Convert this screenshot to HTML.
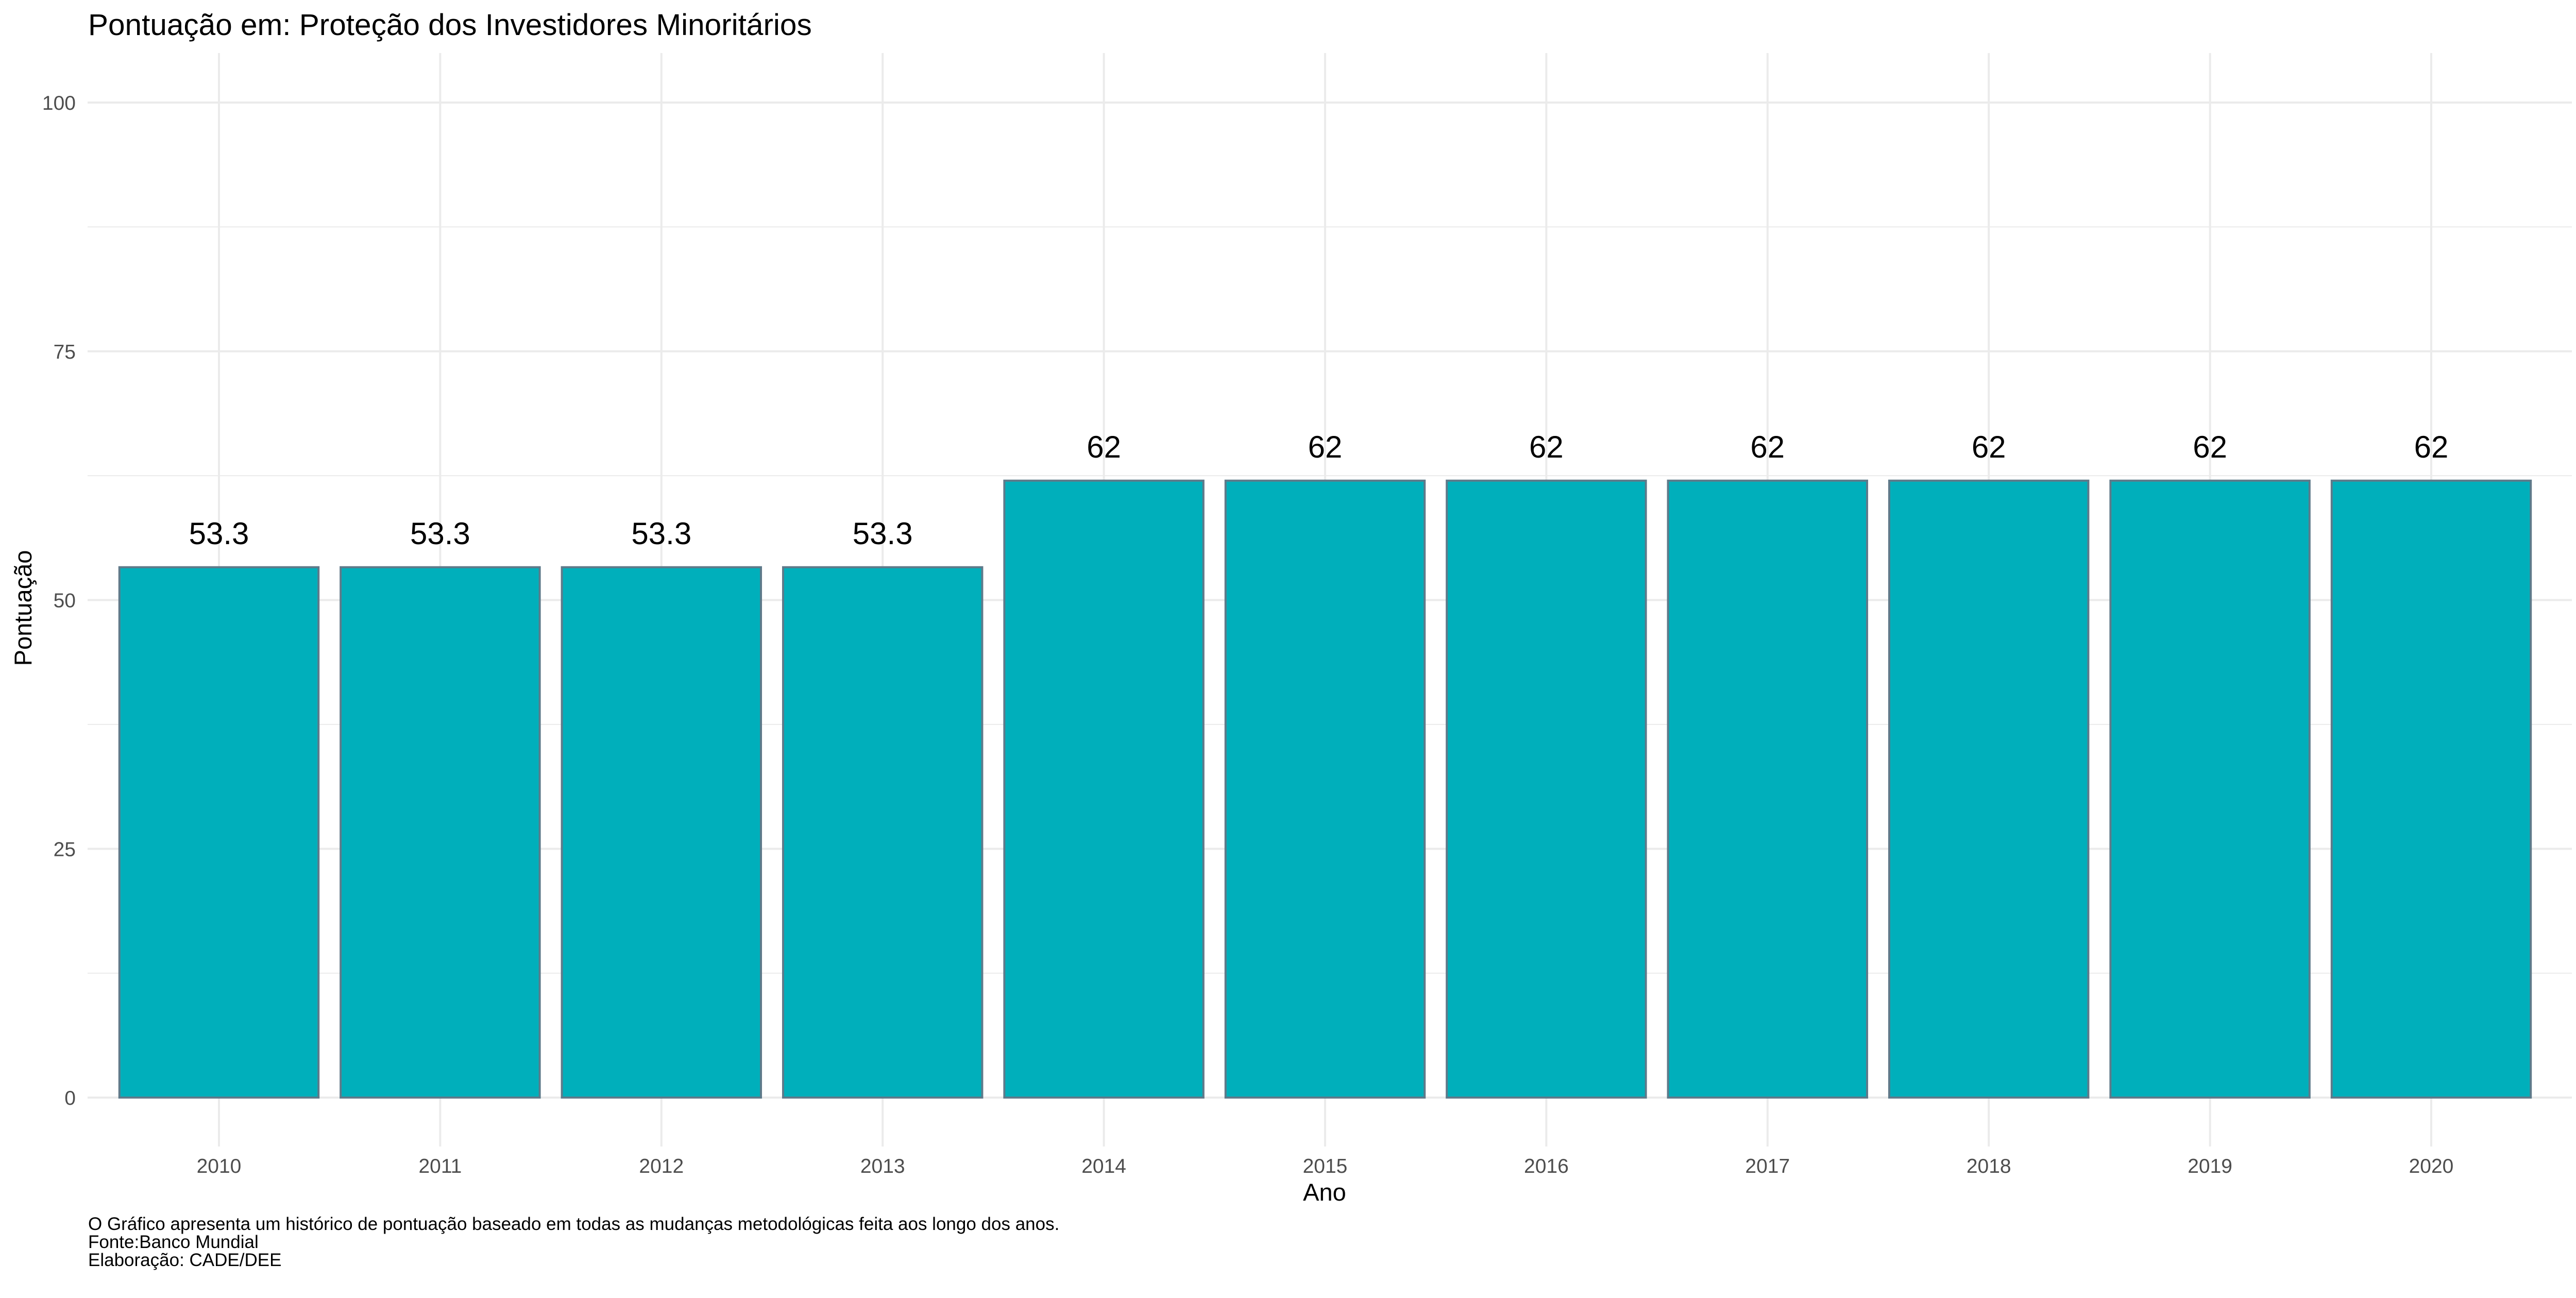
<!DOCTYPE html>
<html><head><meta charset="utf-8">
<style>
html,body{margin:0;padding:0;background:#fff;}
svg{display:block;font-family:"Liberation Sans",Arial,sans-serif;}
</style></head>
<body>
<svg id="chart" width="5039" height="2519" viewBox="0 0 5039 2519" xmlns="http://www.w3.org/2000/svg">
<rect width="5039" height="2519" fill="#ffffff"/>
<g id="grid"></g>
<g id="bars"></g>
<g id="labels"></g>
<g id="yticks"></g>
<g id="xticks"></g>
<text x="171" y="68" font-size="58.5" fill="#000">Pontuação em: Proteção dos Investidores Minoritários</text>
<text x="2571" y="2330" font-size="47" text-anchor="middle" fill="#000">Ano</text>
<text transform="translate(61,1180) rotate(-90)" font-size="47" text-anchor="middle" fill="#000">Pontuação</text>
<g font-size="35" fill="#000">
<text x="171" y="2387">O Gráfico apresenta um histórico de pontuação baseado em todas as mudanças metodológicas feita aos longo dos anos.</text>
<text x="171" y="2422">Fonte:Banco Mundial</text>
<text x="171" y="2457">Elaboração: CADE/DEE</text>
</g>
</svg>
<script>
const categories = ["2010","2011","2012","2013","2014","2015","2016","2017","2018","2019","2020"];
const values = [53.3,53.3,53.3,53.3,62,62,62,62,62,62,62];
const valueLabels = ["53.3","53.3","53.3","53.3","62","62","62","62","62","62","62"];
const yTicks = [0,25,50,75,100];
const yTickLabels = ["0","25","50","75","100"];
const yMinor = [12.5,37.5,62.5,87.5];

const NS = "http://www.w3.org/2000/svg";
const panelL = 170, panelR = 4992, panelT = 103, panelB = 2225;
const y0 = 2130, pxPerUnit = 19.31;
const xFirst = 425, step = 429.4;
function yScale(v){ return y0 - v*pxPerUnit; }
function xScale(i){ return xFirst + i*step; }
const bw = step*0.9;

function mk(tag, attrs, parent){
  const el = document.createElementNS(NS, tag);
  for (const k in attrs) el.setAttribute(k, attrs[k]);
  parent.appendChild(el);
  return el;
}
const grid = document.getElementById('grid');
yMinor.forEach(v=>{
  const l = mk('line',{x1:panelL,x2:panelR,y1:yScale(v),y2:yScale(v),stroke:'#ebebeb','stroke-width':2},grid);
  
  
});
yTicks.forEach(v=>{
  const l = mk('line',{x1:panelL,x2:panelR,y1:yScale(v),y2:yScale(v),stroke:'#ebebeb','stroke-width':4},grid);
  
  
});
categories.forEach((c,i)=>{
  const l = mk('line',{x1:xScale(i),x2:xScale(i),y1:panelT,y2:panelB,stroke:'#ebebeb','stroke-width':4},grid);
  
  
});
const bars = document.getElementById('bars');
const labels = document.getElementById('labels');
const xt = document.getElementById('xticks');
values.forEach((v,i)=>{
  const cx = xScale(i);
  const r = mk('rect',{x:cx-bw/2,y:yScale(v),width:bw,height:y0-yScale(v),fill:'#00AFBB',stroke:'#5f7a8a','stroke-width':4},bars);
  
  
  const t = mk('text',{x:cx,y:yScale(v)-45,'font-size':60,'text-anchor':'middle',fill:'#000'},labels);
  t.textContent = valueLabels[i];
  
  
  const xl = mk('text',{x:cx,y:2276,'font-size':39,'text-anchor':'middle',fill:'#4d4d4d'},xt);
  xl.textContent = categories[i];
  
  
});
const yt = document.getElementById('yticks');
yTicks.forEach((v,i)=>{
  const t = mk('text',{x:147,y:yScale(v)+14,'font-size':39,'text-anchor':'end',fill:'#4d4d4d'},yt);
  t.textContent = yTickLabels[i];
  
  
});
</script>
</body></html>
